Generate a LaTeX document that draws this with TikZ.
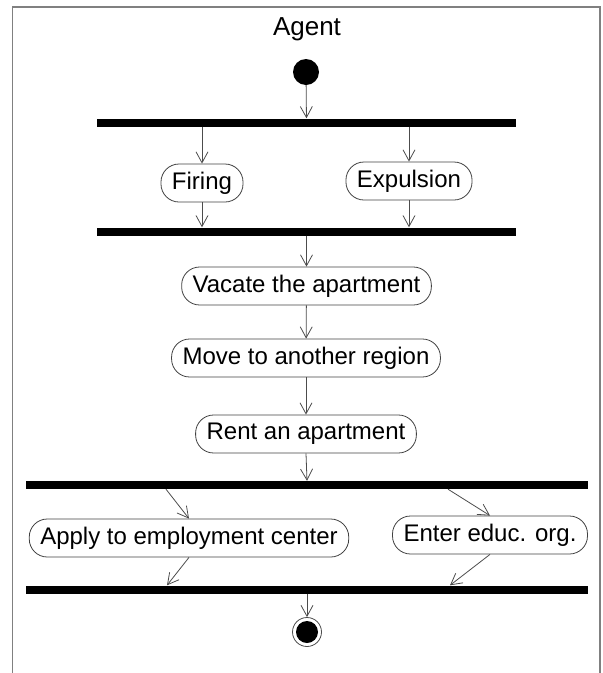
\documentclass[tikz,border=0pt]{standalone}
\usepackage{fontspec}
\setmainfont{Liberation Sans}
\usetikzlibrary{arrows.meta}

\tikzset{
    activity/.style={draw=black!75,line width=0.8pt,rounded corners=18pt,
        minimum height=38pt,inner xsep=11pt,inner ysep=0pt,
        font=\fontsize{24}{28}\selectfont},
    forkbar/.style={fill=black,inner sep=0pt,minimum height=8pt},
    flow/.style={->,draw=black!70,line width=0.8pt},
}

\begin{document}
\begin{tikzpicture}[x=1pt,y=-1pt,>={Straight Barb[length=11pt,width=12pt]}]
    \useasboundingbox (0,0) rectangle (603,673);
    \draw [black!50,line width=1.5pt] (12.5,673) -- (12.5,7) -- (600,7) -- (600,673);

    \node [font=\fontsize{26}{30}\selectfont] (title) at (307,29) {Agent};
    \node [circle,fill=black,minimum size=26pt,inner sep=0pt] (start) at (306,72) {};

    \foreach \name/\y in {forkA/122.5,joinA/231.5}{%
        \node [forkbar,minimum width=419pt] (\name) at (306.5,\y) {};
    }
    \foreach \name/\y in {forkB/485,joinB/589.5}{%
        \node [forkbar,minimum width=562pt] (\name) at (307,\y) {};
    }

    \node [activity] (firing)    at (202,183)   {Firing};
    \node [activity] (expulsion) at (409,181)   {Expulsion};
    \node [activity] (vacate)    at (306.5,286) {Vacate the apartment};
    \node [activity] (move)      at (306,358)   {Move to another region};
    \node [activity] (rent)      at (306,434)   {Rent an apartment};
    \node [activity] (apply)     at (189,538)   {Apply to employment center};
    \node [activity] (enter)     at (490,535)   {Enter educ. org.};

    \node [circle,draw=black!70,line width=0.8pt,minimum size=29pt,inner sep=0pt] (finish) at (307,632) {};
    \fill (finish.center) circle (11pt);

    \begin{scope}[flow]
        \draw (start) -- (forkA);
        \draw (forkA.south -| firing.north) -- (firing.north);
        \draw (forkA.south -| expulsion.north) -- (expulsion.north);
        \draw (firing.south) -- (joinA.north -| firing.south);
        \draw (expulsion.south) -- (joinA.north -| expulsion.south);
        \draw (joinA.south) -- (vacate.north);
        \draw (vacate) -- (move);
        \draw (move) -- (rent);
        \draw (rent.south) -- (forkB.north);
        \draw ([xshift=-141pt]forkB.south) -- (apply.north);
        \draw ([xshift=141pt]forkB.south) -- (enter.north);
        \draw (apply.south) -- ([xshift=-140pt]joinB.north);
        \draw (enter.south) -- ([xshift=143pt]joinB.north);
        \draw (joinB.south) -- (finish.north);
    \end{scope}
\end{tikzpicture}
\end{document}
